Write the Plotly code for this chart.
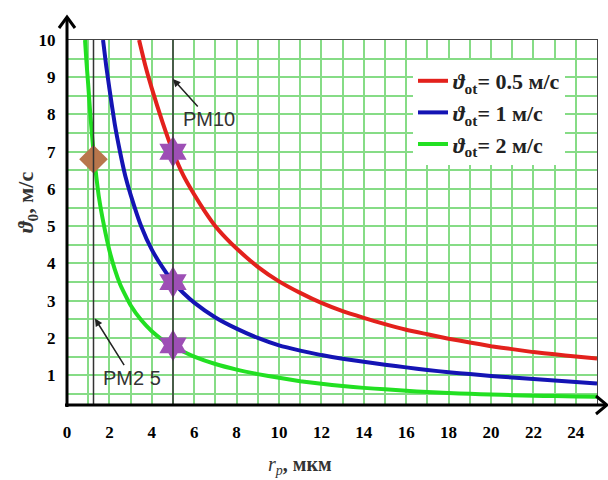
import plotly.graph_objects as go

# ---- data ----
r_red = [3.4, 3.7, 4, 4.5, 5, 5.5, 6, 6.5, 7, 7.5, 8, 9, 10, 11, 12, 13, 14, 15, 16, 17, 18, 19, 20, 21, 22, 23, 24, 25]
v_red = [10, 9.3, 8.7, 7.8, 7.0, 6.35, 5.85, 5.4, 5.0, 4.68, 4.4, 3.91, 3.52, 3.21, 2.94, 2.72, 2.54, 2.37, 2.22, 2.1, 1.98, 1.88, 1.78, 1.7, 1.62, 1.56, 1.5, 1.45]

r_blue = [1.7, 1.85, 2, 2.25, 2.5, 2.75, 3, 3.5, 4, 4.5, 5, 5.5, 6, 7, 8, 9, 10, 11, 12, 13, 14, 15, 16, 17, 18, 19, 20, 21, 22, 23, 24, 25]
v_blue = [10, 9.3, 8.7, 7.75, 7.0, 6.35, 5.85, 5.0, 4.37, 3.9, 3.5, 3.2, 2.95, 2.55, 2.25, 2.0, 1.8, 1.66, 1.54, 1.44, 1.36, 1.28, 1.21, 1.14, 1.08, 1.03, 0.98, 0.94, 0.9, 0.86, 0.82, 0.78]

r_green = [0.85, 0.92, 1.0, 1.1, 1.25, 1.4, 1.5, 1.75, 2, 2.25, 2.5, 2.75, 3, 3.5, 4, 4.5, 5, 5.5, 6, 7, 8, 9, 10, 11, 12, 13, 14, 15, 16, 17, 18, 19, 20, 21, 22, 23, 24, 25]
v_green = [10, 9.4, 8.8, 8.0, 7.0, 6.25, 5.8, 5.0, 4.35, 3.85, 3.45, 3.15, 2.88, 2.48, 2.18, 1.95, 1.78, 1.63, 1.5, 1.3, 1.15, 1.03, 0.93, 0.84, 0.77, 0.71, 0.66, 0.62, 0.58, 0.55, 0.52, 0.5, 0.48, 0.465, 0.45, 0.44, 0.43, 0.42]

series_names = ["<i>ϑ</i><sub>ot</sub>= 0.5 м/с", "<i>ϑ</i><sub>ot</sub>= 1 м/с", "<i>ϑ</i><sub>ot</sub>= 2 м/с"]
series_colors = ["#e3211c", "#1414b4", "#22e022"]

star_r = [5, 5, 5]
star_v = [7.0, 3.5, 1.8]
diamond_r = [1.25]
diamond_v = [6.8]

pm_lines = [1.25, 5]
pm_labels = ["PM2 5", "PM10"]
pm_arrow_heads = [(1.32, 2.52), (5.0, 8.95)]

x_ticks = list(range(0, 25, 2))
y_ticks = list(range(1, 11))

X_RANGE = [0, 25]
Y_RANGE = [0.2, 10]

fig = go.Figure()
for rr, vv, nm, col in zip([r_red, r_blue, r_green], [v_red, v_blue, v_green], series_names, series_colors):
    fig.add_trace(go.Scatter(x=rr, y=vv, mode="lines", name=nm,
                             line=dict(color=col, width=4, shape="spline", smoothing=0.5)))

fig.add_trace(go.Scatter(x=diamond_r, y=diamond_v, mode="markers", showlegend=False,
                         marker=dict(symbol="diamond", size=22, color="#b8764c")))
fig.add_trace(go.Scatter(x=star_r, y=star_v, mode="markers", showlegend=False,
                         marker=dict(symbol="hexagram", size=24, color="#9d4fb5")))

for xv in pm_lines:
    fig.add_shape(type="line", x0=xv, x1=xv, y0=Y_RANGE[0], y1=Y_RANGE[1], xref="x", yref="y",
                  line=dict(color="#333333", width=1.5), layer="above")

for lab, (hx, hy), (ax, ay) in zip(pm_labels, pm_arrow_heads, [(37, 59), (36, 40)]):
    fig.add_annotation(x=hx, y=hy, xref="x", yref="y", text=lab, showarrow=True,
                       ax=ax, ay=ay, arrowhead=2, arrowsize=1, arrowwidth=1.5, arrowcolor="#222222",
                       font=dict(family="Liberation Sans", size=20, color="#333333"))

# thick axes with open arrowheads (paper coords)
PW, PH = 530.0, 365.0
def px(X):
    return (X - 67) / PW
def py(Y):
    return (405 - Y) / PH

ax_line = dict(color="black", width=3)
fig.add_shape(type="line", xref="paper", yref="paper", x0=0, x1=0, y0=py(407), y1=py(17), line=ax_line)
fig.add_shape(type="line", xref="paper", yref="paper", x0=px(65), x1=px(606), y0=0, y1=0, line=ax_line)
fig.add_shape(type="path", xref="paper", yref="paper",
              path=f"M {px(59)} {py(28)} L {px(67)} {py(17)} L {px(75)} {py(28)}", line=ax_line)
fig.add_shape(type="path", xref="paper", yref="paper",
              path=f"M {px(596)} {py(396)} L {px(607)} {py(405)} L {px(596)} {py(414)}", line=ax_line)

# axis titles
fig.add_annotation(x=px(300), y=py(465), xref="paper", yref="paper", showarrow=False,
                   xanchor="center", yanchor="middle",
                   text="<i>r<sub>p</sub></i><b>, мкм</b>",
                   font=dict(family="Liberation Serif", size=20, color="#333333"))
fig.add_annotation(x=px(27), y=py(203), xref="paper", yref="paper", showarrow=False, textangle=-90,
                   xanchor="center", yanchor="middle",
                   text="<b><i>ϑ</i><sub>0</sub>, м/с</b>",
                   font=dict(family="Liberation Serif", size=22, color="#333333"))

tickfont = dict(family="Liberation Serif", size=17, color="black", weight="bold")
grid_col = "#86dc86"
fig.update_xaxes(range=X_RANGE, tickvals=x_ticks, showgrid=True, gridcolor=grid_col, gridwidth=1.5,
                 minor=dict(dtick=1, tick0=0, showgrid=True, gridcolor=grid_col, gridwidth=1.5),
                 showline=True, linecolor="#444444", linewidth=1, mirror=True,
                 zeroline=False, tickfont=tickfont, ticks="", ticklabelstandoff=12)
fig.update_yaxes(range=Y_RANGE, tickvals=y_ticks, showgrid=True, gridcolor=grid_col, gridwidth=1.5,
                 minor=dict(dtick=0.5, tick0=0, showgrid=True, gridcolor=grid_col, gridwidth=1.5),
                 showline=True, linecolor="#444444", linewidth=1, mirror=True,
                 zeroline=False, tickfont=tickfont, ticks="", ticklabelstandoff=7)

fig.update_layout(
    width=608, height=480,
    margin=dict(l=67, r=11, t=40, b=75),
    plot_bgcolor="white", paper_bgcolor="white",
    legend=dict(x=px(413), y=py(60), xanchor="left", yanchor="top",
                bgcolor="white", borderwidth=0,
                font=dict(family="Liberation Serif", size=22, color="#222222", weight="bold"),
                itemwidth=30, tracegroupgap=0),
)

fig.write_html("out.html")
